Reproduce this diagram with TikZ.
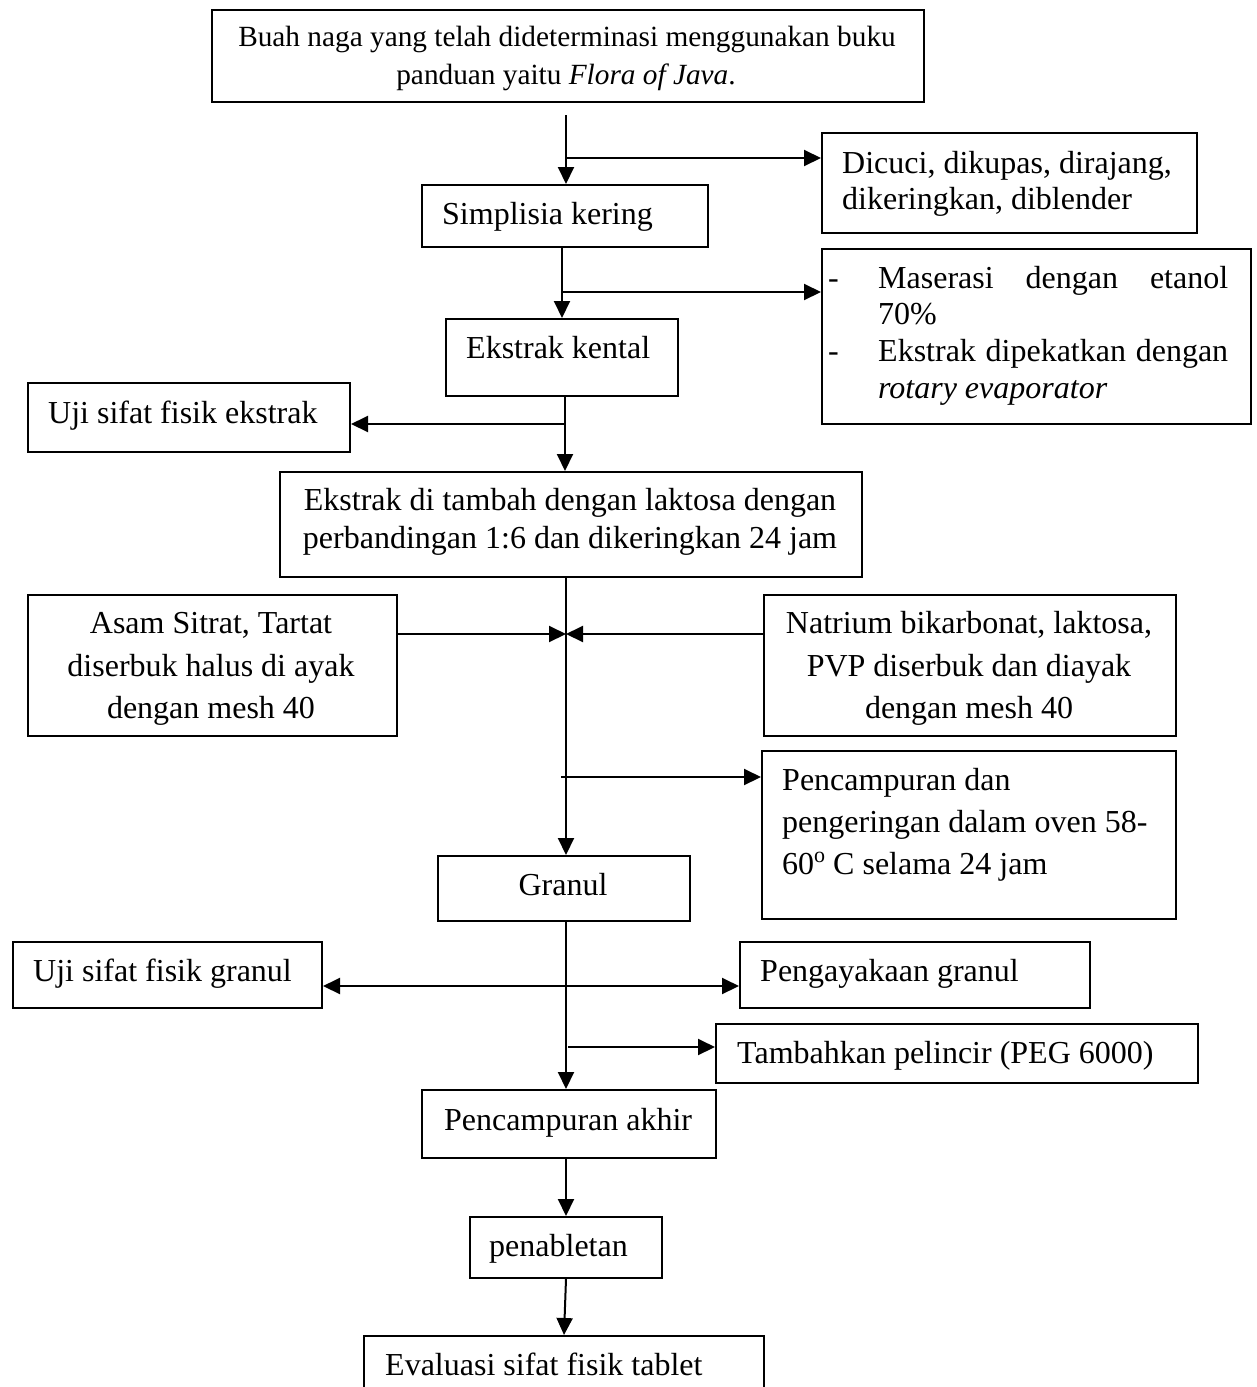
\documentclass[tikz,border=0pt]{standalone}
\usepackage{fontspec}
\setmainfont{Liberation Serif}
\usetikzlibrary{arrows.meta}
\newcommand\fsbig{\fontsize{32}{38}\selectfont}
\newcommand\fstop{\fontsize{29.3}{38}\selectfont}
\newcommand\degsup{\raisebox{12pt}{\fontsize{22}{22}\selectfont o}}
\begin{document}
\begin{tikzpicture}[x=1pt,y=-1pt,
  box/.style={draw,line width=2pt,inner sep=0pt,anchor=north west},
  lbl/.style={inner sep=0pt,anchor=base west,font=\fsbig},
  clbl/.style={inner sep=0pt,anchor=base,font=\fsbig},
  arr/.style={line width=2pt,-{Triangle[length=17pt,width=16pt]}},
  arrb/.style={line width=2pt,{Triangle[length=17pt,width=16pt]}-{Triangle[length=17pt,width=16pt]}}]
\clip (0,0) rectangle (1256,1387);
\fill[white] (0,0) rectangle (1256,1387);

% boxes
\node[box,minimum width=712pt,minimum height=92pt] (b1) at (211,9) {};
\node[box,minimum width=375pt,minimum height=100pt] (b2) at (821,132) {};
\node[box,minimum width=286pt,minimum height=62pt] (b3) at (421,184) {};
\node[box,minimum width=429pt,minimum height=175pt] (b4) at (821,248) {};
\node[box,minimum width=232pt,minimum height=77pt] (b5) at (445,318) {};
\node[box,minimum width=322pt,minimum height=69pt] (b6) at (27,382) {};
\node[box,minimum width=582pt,minimum height=105pt] (b7) at (279,471) {};
\node[box,minimum width=369pt,minimum height=141pt] (b8) at (27,594) {};
\node[box,minimum width=412pt,minimum height=141pt] (b9) at (763,594) {};
\node[box,minimum width=414pt,minimum height=168pt] (b10) at (761,750) {};
\node[box,minimum width=252pt,minimum height=65pt] (b11) at (437,855) {};
\node[box,minimum width=309pt,minimum height=66pt] (b12) at (12,941) {};
\node[box,minimum width=350pt,minimum height=66pt] (b13) at (739,941) {};
\node[box,minimum width=482pt,minimum height=59pt] (b14) at (715,1023) {};
\node[box,minimum width=294pt,minimum height=68pt] (b15) at (421,1089) {};
\node[box,minimum width=192pt,minimum height=61pt] (b16) at (469,1216) {};
\node[box,minimum width=400pt,minimum height=80pt] (b17) at (363,1335) {};

% texts
\node[clbl,font=\fstop] (t1a) at (567,46) {Buah naga yang telah dideterminasi menggunakan buku};
\node[clbl,font=\fstop] (t1b) at (566,84) {panduan yaitu \textit{Flora of Java}.};
\node[lbl] (t2a) at (842,173) {Dicuci, dikupas, dirajang,};
\node[lbl] (t2b) at (842,209) {dikeringkan, diblender};
\node[lbl] (t3) at (442,224) {Simplisia kering};
\node[lbl] (t4d1) at (828,288) {-};
\node[lbl] (t4a) at (878,288) {\hbox to 350pt{Maserasi\hfill dengan\hfill etanol}};
\node[lbl] (t4b) at (878,324) {70\%};
\node[lbl] (t4d2) at (828,361) {-};
\node[lbl] (t4c) at (878,361) {\hbox to 350pt{Ekstrak\hfill dipekatkan\hfill dengan}};
\node[lbl] (t4e) at (878,398) {\textit{rotary evaporator}};
\node[lbl] (t5) at (466,358) {Ekstrak kental};
\node[lbl] (t6) at (48,423) {Uji sifat fisik ekstrak};
\node[clbl] (t7a) at (570,510) {Ekstrak di tambah dengan laktosa dengan};
\node[clbl] (t7b) at (570,548) {perbandingan 1:6 dan dikeringkan 24 jam};
\node[clbl] (t8a) at (211,633) {Asam Sitrat, Tartat};
\node[clbl] (t8b) at (211,676) {diserbuk halus di ayak};
\node[clbl] (t8c) at (211,718) {dengan mesh 40};
\node[clbl] (t9a) at (969,633) {Natrium bikarbonat, laktosa,};
\node[clbl] (t9b) at (969,676) {PVP diserbuk dan diayak};
\node[clbl] (t9c) at (969,718) {dengan mesh 40};
\node[lbl] (t10a) at (782,790) {Pencampuran dan};
\node[lbl] (t10b) at (782,832) {pengeringan dalam oven 58-};
\node[lbl] (t10c) at (782,874) {60\degsup{} C selama 24 jam};
\node[clbl] (t11) at (563,895) {Granul};
\node[lbl] (t12) at (33,981) {Uji sifat fisik granul};
\node[lbl] (t13) at (760,981) {Pengayakaan granul};
\node[lbl] (t14) at (737,1063) {Tambahkan pelincir (PEG 6000)};
\node[lbl] (t15) at (444,1130) {Pencampuran akhir};
\node[lbl] (t16) at (489,1256) {penabletan};
\node[lbl] (t17) at (385,1375) {Evaluasi sifat fisik tablet};

% junction coordinates
\coordinate (c1) at (566,115);
\coordinate (c2) at (566,158);
\coordinate (c3) at (561,292);
\coordinate (c4) at (565,424);
\coordinate (c5) at (566,634);
\coordinate (c6) at (561,777);
\coordinate (c7) at (566,986);
\coordinate (c8) at (568,1047);

% connectors
\draw[arr] (c1) -- (c1 |- b3.north);
\draw[arr] (c2) -- (c2 -| b2.west);
\draw[arr] (b3.south -| b5.north) -- (b5.north);
\draw[arr] (c3) -- (c3 -| b4.west);
\draw[arr] (b5.south -| c4) -- (c4 |- b7.north);
\draw[arr] (c4) -- (c4 -| b6.east);
\draw[arr] (b7.south -| c5) -- (c5 |- b11.north);
\draw[arr] (b8.east |- c5) -- (c5);
\draw[arr] (b9.west |- c5) -- (c5);
\draw[arr] (c6) -- (c6 -| b10.west);
\draw[arr] (b11.south -| c7) -- (c7 |- b15.north);
\draw[arrb] (b12.east |- c7) -- (b13.west |- c7);
\draw[arr] (c8) -- (c8 -| b14.west);
\draw[arr] (b16.north |- b15.south) -- (b16.north);
\draw[arr] (b16.south) -- (b17.north);
\end{tikzpicture}
\end{document}
